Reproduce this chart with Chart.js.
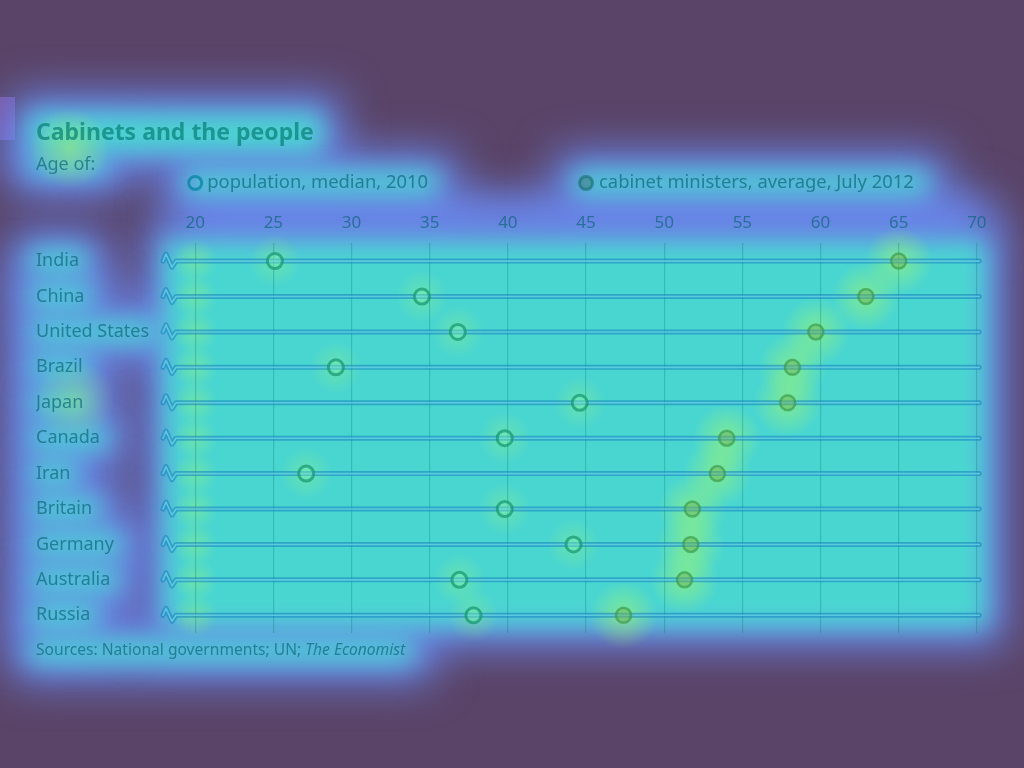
<!DOCTYPE html>
<html>
<head>
<meta charset="utf-8">
<script src="https://cdn.jsdelivr.net/npm/chart.js@4.4.1/dist/chart.umd.min.js"></script>
<style>
  html, body { margin: 0; padding: 0; background: #5a4468; }
  #wrap { width: 1024px; height: 768px; }
</style>
</head>
<body>
<div id="wrap"><canvas id="cabinets" width="1024" height="768"></canvas></div>
<script>
// Age data
var countries = ["India", "China", "United States", "Brazil", "Japan", "Canada",
                 "Iran", "Britain", "Germany", "Australia", "Russia"];
var populationMedian = [25.1, 34.5, 36.8, 29.0, 44.6, 39.8, 27.1, 39.8, 44.2, 36.9, 37.8];
var cabinetAverage   = [65.0, 62.9, 59.7, 58.2, 57.9, 54.0, 53.4, 51.8, 51.7, 51.3, 47.4];
var xTicks = [20, 25, 30, 35, 40, 45, 50, 55, 60, 65, 70];

var seriesNames = ["population, median, 2010", "cabinet ministers, average, July 2012"];
var titleText = "Cabinets and the people";
var subtitleText = "Age of:";
var sourceText = "Sources: National governments; UN; ";
var sourceItalic = "The Economist";

var FONT = "'Noto Sans', 'Open Sans', sans-serif";
var textColor = 'rgba(10,100,120,0.68)';

// heat-map style backdrop behind the chart
var heatBackdrop = {
  id: 'heatBackdrop',
  beforeDraw: function (chart) {
    var ctx = chart.ctx, x = chart.scales.x, y = chart.scales.y, a = chart.chartArea;
    ctx.save();
    ctx.fillStyle = '#5a4468';
    ctx.fillRect(0, 0, chart.width, chart.height);

    // small tag at top left
    ctx.fillStyle = '#7a5aa6';
    ctx.fillRect(0, 97, 15, 43);

    ctx.font = '18px ' + FONT;
    var regions = [
      [26, 110, 300, 46],            // title
      [26, 152, 84, 26],             // subtitle
      [180, 168, 262, 30],           // legend 1
      [570, 168, 362, 30],           // legend 2
      [26, 636, 392, 30],            // source
      [a.left - 18, a.top - 6, a.right - a.left + 28, a.bottom - a.top + 4]
    ];
    countries.forEach(function (c, i) {
      var w = ctx.measureText(c).width;
      regions.push([26, y.getPixelForValue(i) - 15, w + 22, 30]);
    });

    ctx.filter = 'blur(22px)';
    ctx.fillStyle = '#6b8cf6';
    regions.forEach(function (r) { ctx.fillRect(r[0] - 14, r[1] - 14, r[2] + 28, r[3] + 28); });
    ctx.fillRect(a.left, 196, a.right - a.left + 10, 44);
    ctx.filter = 'blur(12px)';
    ctx.fillStyle = '#4ad6d0';
    regions.forEach(function (r) { ctx.fillRect(r[0] + 4, r[1] + 4, r[2] - 8, r[3] - 8); });
    ctx.filter = 'none';

    // warm spots around the marks
    function glow(px, py, r, alpha) {
      var g = ctx.createRadialGradient(px, py, 0, px, py, r);
      g.addColorStop(0, 'rgba(170,250,100,' + alpha + ')');
      g.addColorStop(1, 'rgba(170,250,100,0)');
      ctx.fillStyle = g;
      ctx.fillRect(px - r, py - r, 2 * r, 2 * r);
    }
    countries.forEach(function (c, i) {
      var py = y.getPixelForValue(i);
      glow(x.getPixelForValue(cabinetAverage[i]), py, 34, 0.55);
      glow(x.getPixelForValue(populationMedian[i]), py, 26, 0.3);
      glow(x.getPixelForValue(20), py, 22, 0.35);
    });
    glow(70, 148, 40, 0.5);
    glow(75, 400, 40, 0.35);
    ctx.restore();
  }
};

// row lines with the axis-break squiggle
var rowLines = {
  id: 'rowLines',
  beforeDatasetsDraw: function (chart) {
    var ctx = chart.ctx, x = chart.scales.x, y = chart.scales.y;
    var x0 = chart.chartArea.left, x1 = x.getPixelForValue(70.15);
    ctx.save();
    ctx.lineCap = 'round';
    ctx.lineJoin = 'round';
    countries.forEach(function (c, i) {
      var py = y.getPixelForValue(i);
      [[5, 'rgba(20,130,190,0.55)'], [1.6, 'rgba(130,235,240,0.55)']].forEach(function (s) {
        ctx.lineWidth = s[0];
        ctx.strokeStyle = s[1];
        ctx.beginPath();
        ctx.moveTo(x0 - 15, py);
        ctx.lineTo(x0 - 12, py - 7);
        ctx.lineTo(x0 - 6, py + 6);
        ctx.lineTo(x0 - 2, py);
        ctx.lineTo(x1, py);
        ctx.stroke();
      });
    });
    ctx.restore();
  }
};

// title, legend, source
var annotations = {
  id: 'annotations',
  afterDraw: function (chart) {
    var ctx = chart.ctx, x = chart.scales.x;
    ctx.save();
    ctx.textBaseline = 'middle';
    ctx.textAlign = 'left';
    ctx.fillStyle = 'rgba(0,120,110,0.65)';
    ctx.font = 'bold 23px ' + FONT;
    ctx.fillText(titleText, 36, 133);
    ctx.fillStyle = textColor;
    ctx.font = '18px ' + FONT;
    ctx.fillText(subtitleText, 36, 165);

    // legend
    var lx1 = x.getPixelForValue(20), lx2 = x.getPixelForValue(45), ly = 183;
    ctx.lineWidth = 3;
    ctx.strokeStyle = 'rgba(0,130,160,0.7)';
    ctx.beginPath(); ctx.arc(lx1, ly, 6.5, 0, Math.PI * 2); ctx.stroke();
    ctx.fillStyle = 'rgba(60,120,110,0.45)';
    ctx.strokeStyle = 'rgba(20,110,110,0.6)';
    ctx.beginPath(); ctx.arc(lx2, ly, 6.5, 0, Math.PI * 2); ctx.fill(); ctx.stroke();
    ctx.fillStyle = textColor;
    ctx.font = '18.4px ' + FONT;
    ctx.fillText(seriesNames[0], lx1 + 12, ly);
    ctx.fillText(seriesNames[1], lx2 + 13, ly);

    // source
    ctx.font = '15.6px ' + FONT;
    ctx.fillText(sourceText, 36, 651);
    var w = ctx.measureText(sourceText).width;
    ctx.font = 'italic 15.6px ' + FONT;
    ctx.fillText(sourceItalic, 36 + w, 651);
    ctx.restore();
  }
};

var ctx = document.getElementById("cabinets").getContext('2d');
var chart = new Chart(ctx, {
  type: 'scatter',
  data: {
    datasets: [{
      label: seriesNames[0],
      data: countries.map(function (c, i) { return { x: populationMedian[i], y: c }; }),
      pointRadius: 7.5,
      pointHoverRadius: 7.5,
      pointBorderWidth: 3,
      pointBorderColor: 'rgba(20,150,110,0.7)',
      pointBackgroundColor: 'rgba(120,240,190,0.4)'
    }, {
      label: seriesNames[1],
      data: countries.map(function (c, i) { return { x: cabinetAverage[i], y: c }; }),
      pointRadius: 7.5,
      pointHoverRadius: 7.5,
      pointBorderWidth: 2.5,
      pointBorderColor: 'rgba(50,150,70,0.6)',
      pointBackgroundColor: 'rgba(110,180,90,0.5)'
    }]
  },
  plugins: [heatBackdrop, rowLines, annotations],
  options: {
    responsive: false,
    animation: false,
    events: [],
    layout: { padding: { left: 36, right: 44, top: 203, bottom: 135 } },
    plugins: {
      legend: { display: false },
      title: { display: false },
      tooltip: { enabled: false }
    },
    scales: {
      x: {
        type: 'linear',
        position: 'top',
        min: 18.9,
        max: 70.2,
        afterBuildTicks: function (scale) {
          scale.ticks = xTicks.map(function (v) { return { value: v }; });
        },
        grid: { color: 'rgba(0,120,110,0.28)', lineWidth: 1.2, drawTicks: false },
        border: { display: false },
        ticks: { color: textColor, font: { family: FONT, size: 17 }, padding: 10, maxRotation: 0 }
      },
      y: {
        type: 'category',
        labels: countries,
        offset: true,
        grid: { display: false },
        border: { display: false },
        afterFit: function (scale) { scale.width = 142; },
        ticks: { color: textColor, crossAlign: 'far', padding: 0, font: { family: FONT, size: 18 } }
      }
    }
  }
});
</script>
</body>
</html>
